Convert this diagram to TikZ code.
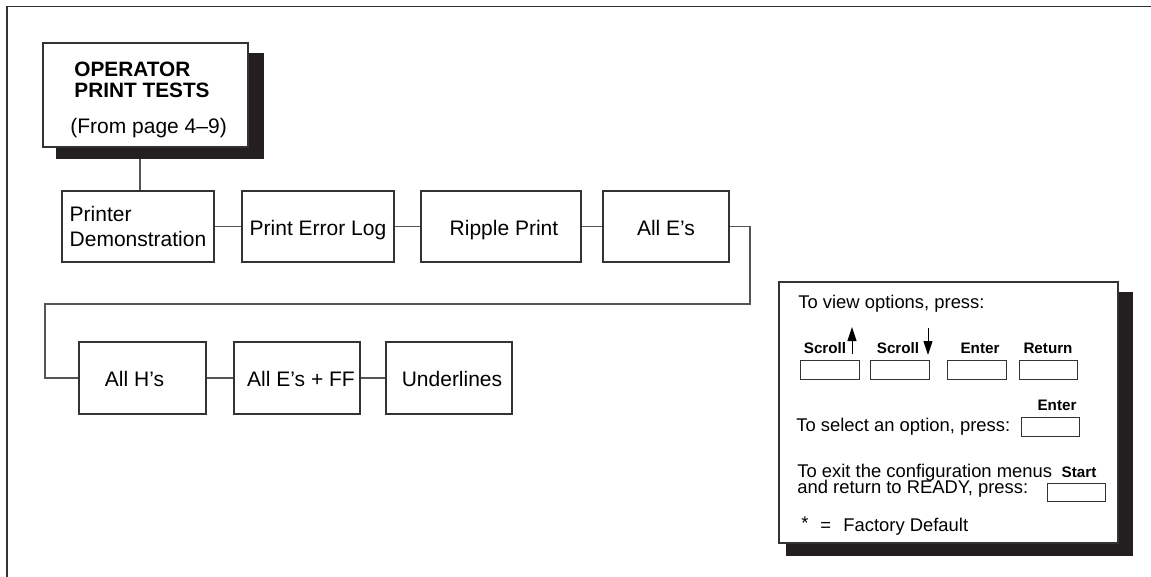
\documentclass[tikz,border=0pt]{standalone}
\usepackage{fontspec}
\setmainfont{Liberation Sans}
\usetikzlibrary{arrows.meta}
\pgfdeclarelayer{background}
\pgfsetlayers{background,main}
\definecolor{linec}{HTML}{333333}
\definecolor{connc}{HTML}{555555}
\definecolor{shadc}{HTML}{231F20}
\tikzset{
  menubox/.style={draw=linec, line width=0.6pt, fill=white, inner sep=0pt,
    minimum height=35.5pt, align=center, font=\fontsize{10.5}{12.5}\selectfont},
  oneline/.style={text height=#1, text depth=0pt},
  keybox/.style={draw=linec, line width=0.5pt, fill=white, inner sep=0pt,
    minimum width=29.5pt, minimum height=9.5pt},
  conn/.style={draw=connc, line width=0.6pt},
  shadow/.style={fill=shadc},
  lgtext/.style={inner sep=0pt, anchor=base west, font=\fontsize{9.2}{11}\selectfont},
  keylabel/.style={inner sep=0pt, anchor=base, font=\fontsize{7.6}{9}\selectfont\bfseries},
  titletext/.style={inner sep=0pt, anchor=base west, font=\fontsize{10.4}{12.5}\selectfont\bfseries},
  keyarrow/.style={draw=black, line width=0.5pt, -{Triangle[length=7pt,width=4.5pt]}}
}
\begin{document}
\begin{tikzpicture}[x=0.5pt,y=-0.5pt]
\useasboundingbox (0,0) rectangle (1151,577);
% outer frame (top and left only)
\coordinate (fTR) at (1151,6.5);
\coordinate (fTL) at (7,6.5);
\coordinate (fBL) at (7,577);
\draw[draw=linec, line width=0.8pt] (fTR) -- (fTL) -- (fBL);

% title box
\node[menubox, minimum width=102.5pt, minimum height=52pt] (op) at (145.5,95) {};
\node[titletext] (opt1) at (74,77) {OPERATOR};
\node[titletext] (opt2) at (74,98) {PRINT TESTS};
\node[inner sep=0pt, anchor=base west, font=\fontsize{10.5}{12.5}\selectfont] (opt3) at (70,134) {(From page 4--9)};

% row 1
\node[menubox, minimum width=76pt, align=left] (pd) at (138,226.5) {Printer\\Demonstration};
\node[menubox, minimum width=76pt, oneline=9.5pt] (pel) at (318,226.5) {Print Error Log};
\node[menubox, minimum width=80pt, oneline=9.5pt] (rp) at (501,226.5) {\hspace*{3pt}Ripple Print};
\node[menubox, minimum width=63pt, oneline=9.5pt] (ae) at (666,226.5) {All E’s};

% row 2
\node[menubox, minimum width=63.5pt, minimum height=36pt, oneline=8.5pt] (ah) at (142.5,378) {All H’s\hspace*{8pt}};
\node[menubox, minimum width=63pt, minimum height=36pt, oneline=8.5pt] (aeff) at (297,378) {\hspace*{4pt}All E’s + FF};
\node[menubox, minimum width=63pt, minimum height=36pt, oneline=8.5pt] (ul) at (449,378) {\hspace*{3pt}Underlines};

\coordinate (c1) at (750,304);
\coordinate (c2) at (45,304);

% legend box
\node[menubox, minimum width=169.5pt, minimum height=130.5pt] (lg) at (948.5,412.5) {};
\node[lgtext] (lv) at (798,308) {To view options, press:};
\node[keylabel] (ls1) at (825,353) {Scroll};
\node[keylabel] (ls2) at (898,353) {Scroll};
\node[keylabel] (le1) at (980,353) {Enter};
\node[keylabel] (lr) at (1048,353) {Return};
\coordinate (au1) at (852,354);
\coordinate (au2) at (852,327);
\coordinate (ad1) at (928,328);
\coordinate (ad2) at (928,355);
\draw[keyarrow] (au1) -- (au2);
\draw[keyarrow] (ad1) -- (ad2);
\node[keybox] (k1) at (829.5,369.5) {};
\node[keybox] (k2) at (899.5,369.5) {};
\node[keybox] (k3) at (976.5,369.5) {};
\node[keybox, minimum width=29pt] (k4) at (1048,369.5) {};
\node[keylabel] (le2) at (1057,410) {Enter};
\node[lgtext] (lsel) at (796,431) {To select an option, press:};
\node[keybox, minimum width=29pt] (ksel) at (1050,426.5) {};
\node[lgtext] (lx1) at (797,477) {To exit the configuration menus};
\node[lgtext] (lx2) at (797,493) {and return to READY, press:};
\node[keylabel] (lst) at (1079,477) {Start};
\node[keybox, minimum width=29pt, minimum height=9pt] (kst) at (1076,492) {};
\node[lgtext] (las) at (801,529) {*};
\node[lgtext] (leq) at (820,531) {=};
\node[lgtext] (lfd) at (843,531) {Factory Default};

\begin{pgfonlayer}{background}
  % connectors
  \draw[conn] (op.south -| 140,0) -- (pd.north -| 140,0);
  \draw[conn] (pd.east |- pel) -- (pel);
  \draw[conn] (pel) -- (rp);
  \draw[conn] (rp) -- (ae);
  \draw[conn] (ae.east) -| (c1) -- (c2) |- (ah.west);
  \draw[conn] (ah) -- (aeff);
  \draw[conn] (aeff) -- (ul);
  % shadows
  \fill[shadow] ([xshift=7pt,yshift=-5.5pt]op.south west) rectangle ([xshift=7.5pt,yshift=-5.5pt]op.north east);
  \fill[shadow] ([xshift=4pt,yshift=-6pt]lg.south west) rectangle ([xshift=7pt,yshift=-5.5pt]lg.north east);
\end{pgfonlayer}
\end{tikzpicture}
\end{document}
